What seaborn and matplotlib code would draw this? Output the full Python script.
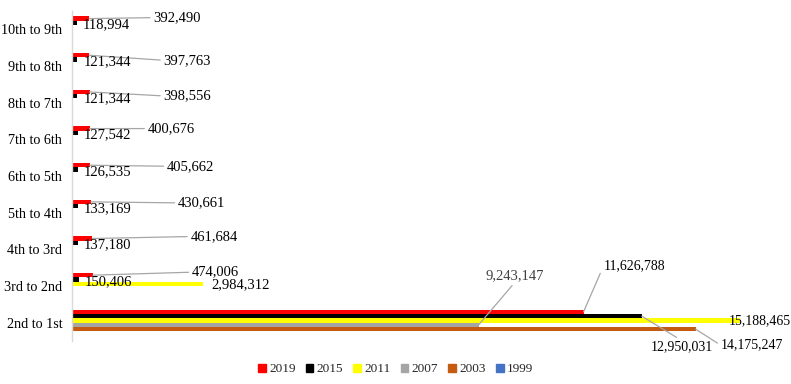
import matplotlib
matplotlib.use("Agg")
import matplotlib.pyplot as plt
import seaborn as sns
import pandas as pd
import numpy as np

categories = ["10th to 9th", "9th to 8th", "8th to 7th", "7th to 6th", "6th to 5th",
              "5th to 4th", "4th to 3rd", "3rd to 2nd", "2nd to 1st"]
years = ["2019", "2015", "2011", "2007", "2003", "1999"]
v2019 = [392490, 397763, 398556, 400676, 405662, 430661, 461684, 474006, 11626788]
v2015 = [118994, 121344, 121344, 127542, 126535, 133169, 137180, 150406, 12950031]
v2011 = [0, 0, 0, 0, 0, 0, 0, 2984312, 15188465]
v2007 = [0, 0, 0, 0, 0, 0, 0, 0, 9243147]
v2003 = [0, 0, 0, 0, 0, 0, 0, 0, 14175247]
v1999 = [0, 0, 0, 0, 0, 0, 0, 0, 0]
series = [v2019, v2015, v2011, v2007, v2003, v1999]
colors = ["#FF0000", "#000000", "#FFFF00", "#A5A5A5", "#C55A11", "#4472C4"]

rows = []
for y, vals in zip(years, series):
    for c, v in zip(categories, vals):
        rows.append({"category": c, "year": y, "value": v})
df = pd.DataFrame(rows)

sns.set_style("white")
plt.rcParams["font.family"] = ["Liberation Serif", "DejaVu Serif"]

fig = plt.figure(figsize=(7.91, 3.84), dpi=100)
ax = fig.add_axes([0.091, 0.112, 0.890, 0.859])
sns.barplot(data=df, y="category", x="value", hue="year", order=categories,
            hue_order=years, palette=colors, orient="h", width=0.71,
            saturation=1, errorbar=None, linewidth=0, ax=ax, legend=False)

ax.set_xlim(0, 16000000)
ax.set_xlabel("")
ax.set_ylabel("")
ax.set_xticks([])
for s in ["top", "right", "bottom"]:
    ax.spines[s].set_visible(False)
ax.spines["left"].set_color("#D9D9D9")
ax.spines["left"].set_linewidth(1)
ax.tick_params(axis="y", length=0, pad=7, labelsize=10.2, colors="#000000")

# label offsets (pixels) per (series index, category index): (dx, dy, leader, relpos)
offsets = {}
small2019 = [(64, 1), (74, -5), (74, -4), (58, 0), (77, -1), (87, -1), (98, 2), (99, 3)]
for i, (dx, dy) in enumerate(small2019):
    offsets[(0, i)] = (dx, dy, True, (0, 0.5))
for i in range(8):
    offsets[(1, i)] = (6, -2, False, None)
offsets[(2, 7)] = (8, -1, False, None)
offsets[(0, 8)] = (20, 46, True, (0, 0.5))
offsets[(1, 8)] = (9, -31, True, (0.5, 1))
offsets[(2, 8)] = (-12, 0, False, None)
offsets[(3, 8)] = (7, 49, True, (0.5, 0))
offsets[(4, 8)] = (25, -16, True, (0, 0.5))

for si, cont in enumerate(ax.containers):
    for ci, bar in enumerate(cont.patches):
        if (si, ci) not in offsets:
            continue
        val = series[si][ci]
        dx, dy, leader, relpos = offsets[(si, ci)]
        xe = bar.get_x() + bar.get_width()
        yc = bar.get_y() + bar.get_height() / 2
        kw = {}
        if leader:
            kw["arrowprops"] = dict(arrowstyle="-", color="#A6A6A6", lw=0.9,
                                    relpos=relpos, shrinkA=0, shrinkB=0)
        ax.annotate(f"{val:,}", xy=(xe, yc), xytext=(dx, dy),
                    textcoords="offset pixels", ha="left", va="center",
                    fontsize=10 if (si, ci) in [(2, 8), (1, 8), (4, 8), (0, 8)] else 10.5,
                    color="#404040" if si == 3 else "#000000",
                    annotation_clip=False, **kw)

handles = [plt.Rectangle((0, 0), 1, 1, color=c) for c in colors]
fig.legend(handles, years, loc="center", bbox_to_anchor=(0.5, 0.038), ncol=6,
           frameon=False, handlelength=0.6, handleheight=0.6, handletextpad=0.25,
           columnspacing=0.75, fontsize=9.5)

fig.savefig("out.png", dpi=100)
